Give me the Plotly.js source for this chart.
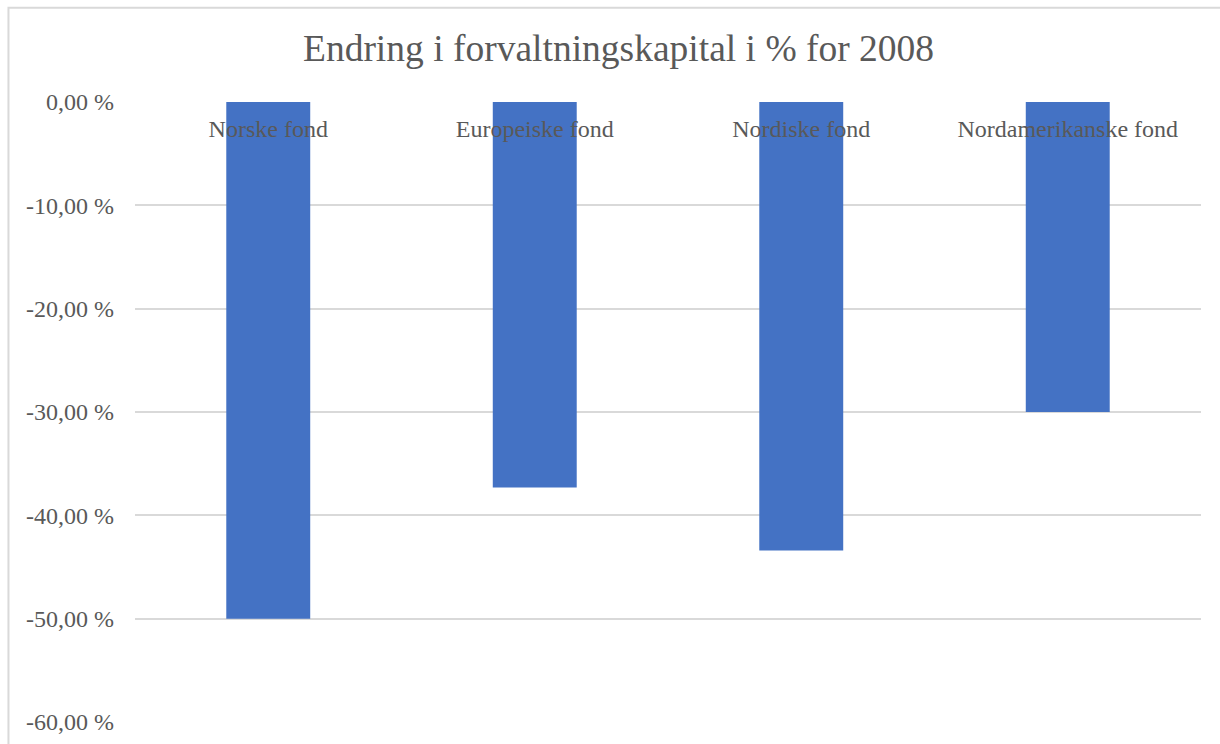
<!DOCTYPE html>
<html>
<head>
<meta charset="utf-8">
<script src="https://cdn.plot.ly/plotly-3.0.1.min.js"></script>
<style>
  html, body { margin: 0; padding: 0; background: #ffffff; }
  #chart { width: 1220px; height: 744px; }
</style>
</head>
<body>
<div id="chart"></div>
<script>
// Fund categories and their 2008 change in assets under management (%)
const categories = ['Norske fond', 'Europeiske fond', 'Nordiske fond', 'Nordamerikanske fond'];
const changePct = [-50.0, -37.3, -43.4, -30.0];

// Value axis ticks, Norwegian number format
const tickVals = [0, -10, -20, -30, -40, -50, -60];
const tickLabels = ['0,00 %', '-10,00 %', '-20,00 %', '-30,00 %', '-40,00 %', '-50,00 %', '-60,00 %'];

const textColor = '#595959';
const gridColor = '#d9d9d9';
const serif = '"Liberation Serif", "Times New Roman", serif';

const trace = {
  type: 'bar',
  x: categories,
  y: changePct,
  marker: { color: '#4472c4', line: { width: 0 } },
  hoverinfo: 'x+y'
};

const layout = {
  width: 1220,
  height: 744,
  margin: { l: 135, r: 19, t: 102, b: 22 },
  paper_bgcolor: '#ffffff',
  plot_bgcolor: '#ffffff',
  showlegend: false,
  bargap: 0.685,
  font: { family: serif, color: textColor },
  title: {
    text: 'Endring i forvaltningskapital i % for 2008',
    font: { family: serif, size: 37.5, color: textColor },
    x: 0.507, xanchor: 'center',
    y: 0.935, yanchor: 'middle'
  },
  xaxis: {
    type: 'category',
    anchor: 'free',
    position: 1,
    side: 'bottom',
    showgrid: false,
    showline: false,
    zeroline: false,
    ticks: '',
    ticklabelstandoff: 10,
    tickfont: { family: serif, size: 24, color: textColor }
  },
  yaxis: {
    range: [-60, 0],
    tickmode: 'array',
    tickvals: tickVals,
    ticktext: tickLabels,
    showgrid: true,
    gridcolor: gridColor,
    gridwidth: 2,
    zeroline: false,
    showline: false,
    ticks: '',
    ticklabelstandoff: 20,
    tickfont: { family: serif, size: 24, color: textColor }
  },
  shapes: [
    {
      // chart frame: left and top edges
      type: 'path',
      xref: 'paper', yref: 'paper',
      path: 'M -0.1187,-0.2 L -0.1187,1.152 L 1.2,1.152',
      line: { color: gridColor, width: 2 },
      fillcolor: 'rgba(0,0,0,0)'
    }
  ]
};

Plotly.newPlot('chart', [trace], layout, { displayModeBar: false, staticPlot: true });
</script>
</body>
</html>
